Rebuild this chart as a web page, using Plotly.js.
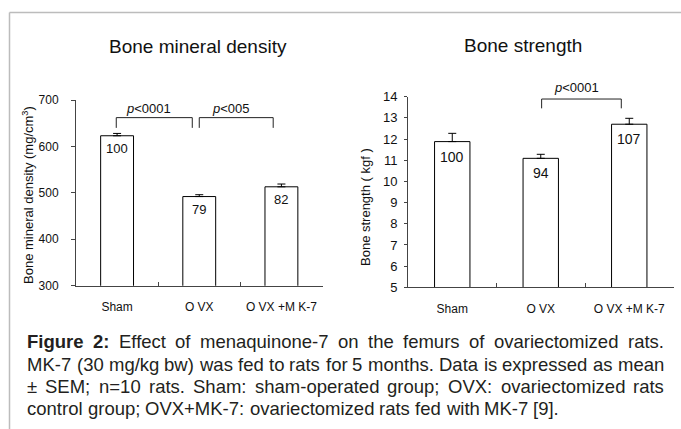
<!DOCTYPE html>
<html><head><meta charset="utf-8">
<script src="https://cdn.plot.ly/plotly-3.0.1.min.js"></script>
<style>html,body{margin:0;padding:0;background:#fff;}#chart{width:681px;height:429px;}</style>
</head><body><div id="chart"></div>
<script>
// ---- data ----
const categories = ["Sham", "O VX", "O VX +M K-7"];
const bmdValues = [623, 492, 513];
const bmdErrors = [5, 4, 6];
const bmdPercent = ["100", "79", "82"];
const strengthValues = [11.88, 11.09, 12.70];
const strengthErrors = [0.39, 0.19, 0.28];
const strengthPercent = ["100", "94", "107"];
const bmdTicks = [300, 400, 500, 600, 700];
const strengthTicks = [5, 6, 7, 8, 9, 10, 11, 12, 13, 14];
const bmdPTexts = ["<i>p</i>&lt;0001", "<i>p</i>&lt;005"];
const strengthPTexts = ["<i>p</i>&lt;0001"];
const titles = ["Bone mineral density", "Bone strength"];
const yTitles = ["Bone mineral density (mg/cm<sup>3</sup>)", "Bone strength ( kgf )"];
const captionLines = [
  "Figure 2: Effect of menaquinone-7 on the femurs of ovariectomized rats.",
  "MK-7 (30 mg/kg bw) was fed to rats for 5 months. Data is expressed as mean",
  "± SEM; n=10 rats. Sham: sham-operated group; OVX: ovariectomized rats",
  "control group; OVX+MK-7: ovariectomized rats fed with MK-7 [9]."
];

// ---- layout helpers ----
const W = 681, H = 429;
const px = x => x / W;
const py = y => 1 - y / H;
const FONT = '"Liberation Sans", Arial, sans-serif';
const zeros = [0, 0, 0];

const traces = [
  {type: 'bar', x: categories, y: bmdValues, xaxis: 'x', yaxis: 'y', width: 0.4,
   marker: {color: '#fff', line: {color: '#000', width: 1}},
   error_y: {type: 'data', symmetric: false, array: bmdErrors, arrayminus: zeros, color: '#000', thickness: 1, width: 4},
   hoverinfo: 'skip'},
  {type: 'bar', x: categories, y: strengthValues, xaxis: 'x2', yaxis: 'y2', width: 0.4,
   marker: {color: '#fff', line: {color: '#000', width: 1}},
   error_y: {type: 'data', symmetric: false, array: strengthErrors, arrayminus: zeros, color: '#000', thickness: 1, width: 4},
   hoverinfo: 'skip'}
];

const axisCommon = {showline: true, linecolor: '#444', linewidth: 1, showgrid: false, zeroline: false,
  tickcolor: '#444', fixedrange: true};

const annotations = [];
const shapes = [];

// titles
annotations.push({xref: 'paper', yref: 'paper', x: px(198), y: py(47), text: titles[0], showarrow: false,
  xanchor: 'center', yanchor: 'middle', font: {family: FONT, size: 19, color: '#111'}});
annotations.push({xref: 'paper', yref: 'paper', x: px(523), y: py(45), text: titles[1], showarrow: false,
  xanchor: 'center', yanchor: 'middle', font: {family: FONT, size: 19, color: '#111'}});
// y titles
annotations.push({xref: 'paper', yref: 'paper', x: px(28), y: py(195), text: yTitles[0], showarrow: false,
  textangle: -90, xanchor: 'center', yanchor: 'middle', font: {family: FONT, size: 13, color: '#111'}});
annotations.push({xref: 'paper', yref: 'paper', x: px(365), y: py(207), text: yTitles[1], showarrow: false,
  textangle: -90, xanchor: 'center', yanchor: 'middle', font: {family: FONT, size: 13, color: '#111'}});

// bar value labels
bmdValues.forEach((v, i) => annotations.push({xref: 'x', yref: 'y', x: i, y: v, yshift: -13, text: bmdPercent[i],
  showarrow: false, xanchor: 'center', yanchor: 'middle', font: {family: FONT, size: 13, color: '#111'}}));
strengthValues.forEach((v, i) => annotations.push({xref: 'x2', yref: 'y2', x: i, y: v, yshift: -15, text: strengthPercent[i],
  showarrow: false, xanchor: 'center', yanchor: 'middle', font: {family: FONT, size: 14, color: '#111'}}));

// significance brackets (label placed in paper space so it is never clipped)
function bracket(xr, yr, x0, x1, yTop, yBot, label, lxPx, lyPx) {
  shapes.push({type: 'path', xref: xr, yref: yr,
    path: `M ${x0} ${yBot} L ${x0} ${yTop} L ${x1} ${yTop} L ${x1} ${yBot}`,
    line: {color: '#222', width: 1}});
  annotations.push({xref: 'paper', yref: 'paper', x: px(lxPx), y: py(lyPx), text: label, showarrow: false,
    xanchor: 'center', yanchor: 'middle', font: {family: FONT, size: 13, color: '#111'}});
}
bracket('x', 'y', -0.01, 0.915, 662, 640, bmdPTexts[0], 148, 108);
bracket('x', 'y', 1.0, 1.9, 662, 640, bmdPTexts[1], 231, 108);
bracket('x2', 'y2', 1.01, 1.91, 13.89, 13.45, strengthPTexts[0], 576, 88);

// outer frame
shapes.push({type: 'line', xref: 'paper', yref: 'paper', x0: px(9.5), x1: 1, y0: py(12.5), y1: py(12.5), line: {color: '#bcbcbc', width: 1.5}});
shapes.push({type: 'line', xref: 'paper', yref: 'paper', x0: px(9.5), x1: px(9.5), y0: py(12.5), y1: 0, line: {color: '#bcbcbc', width: 1.5}});

// caption, justified
const CAP_SIZE = 18.5;
const cv = document.createElement('canvas').getContext('2d');
function measure(t, bold) {
  cv.font = (bold ? 'bold ' : '') + CAP_SIZE + 'px ' + FONT;
  return cv.measureText(t).width;
}
const capLeft = 27, capRight = 664, capY = [341.5, 364, 386.5, 408.5];
captionLines.forEach((line, li) => {
  const words = line.split(' ');
  const bolds = words.map((w, wi) => li === 0 && wi < 2);
  const widths = words.map((w, wi) => measure(w, bolds[wi]));
  const total = widths.reduce((a, b) => a + b, 0);
  const justify = li < captionLines.length - 1;
  const gap = justify ? (capRight - capLeft - total) / (words.length - 1) : measure(' ', false);
  let x = capLeft;
  words.forEach((w, wi) => {
    annotations.push({xref: 'paper', yref: 'paper', x: px(x - 1), y: py(capY[li]), text: bolds[wi] ? '<b>' + w + '</b>' : w,
      showarrow: false, xanchor: 'left', yanchor: 'middle', borderpad: 0,
      font: {family: FONT, size: CAP_SIZE, color: '#231f20'}});
    x += widths[wi] + gap;
  });
});

const layout = {
  width: W, height: H, margin: {l: 0, r: 0, t: 0, b: 0},
  paper_bgcolor: '#fff', plot_bgcolor: '#fff', showlegend: false,
  xaxis: Object.assign({}, axisCommon, {domain: [px(76), px(322.5)], anchor: 'y', type: 'category', range: [-0.5, 2.5],
    tickson: 'boundaries', ticks: 'inside', ticklen: 4, ticklabelstandoff: 10,
    tickfont: {family: FONT, size: 12, color: '#111'}}),
  yaxis: Object.assign({}, axisCommon, {domain: [py(285.7), py(100)], anchor: 'x', range: [300, 700],
    tickvals: bmdTicks, ticks: 'outside', ticklen: 4, ticklabelstandoff: 10,
    tickfont: {family: FONT, size: 12, color: '#111'}}),
  xaxis2: Object.assign({}, axisCommon, {domain: [px(408), px(673.5)], anchor: 'y2', type: 'category', range: [-0.5, 2.5],
    tickson: 'boundaries', ticks: 'inside', ticklen: 4, ticklabelstandoff: 10,
    tickfont: {family: FONT, size: 12, color: '#111'}}),
  yaxis2: Object.assign({}, axisCommon, {domain: [py(287.3), py(96.7)], anchor: 'x2', range: [5, 14],
    tickvals: strengthTicks, ticks: 'outside', ticklen: 3, ticklabelstandoff: 4,
    tickfont: {family: FONT, size: 13, color: '#111'}}),
  annotations: annotations,
  shapes: shapes
};

Plotly.newPlot('chart', traces, layout, {displayModeBar: false, staticPlot: true});
</script>
</body></html>
